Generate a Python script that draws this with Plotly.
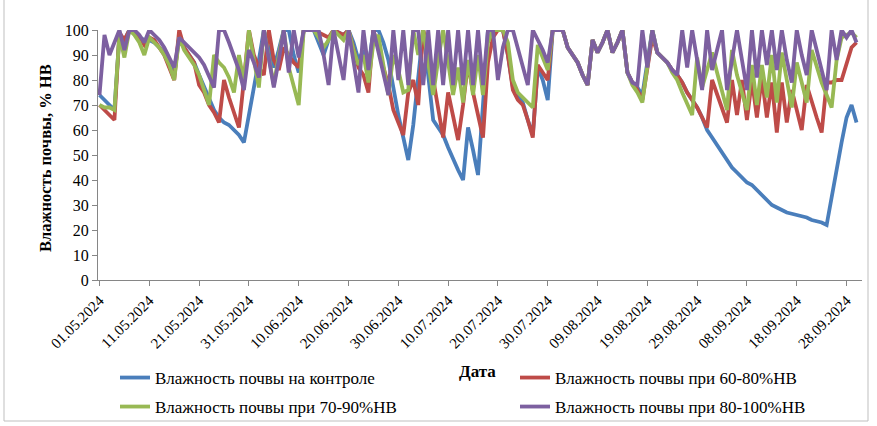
import pandas as pd
import plotly.graph_objects as go

start_date = "2024-05-01"
end_date = "2024-09-30"
dates = pd.date_range(start_date, end_date, freq="D")

tick_dates = ["2024-05-01", "2024-05-11", "2024-05-21", "2024-05-31", "2024-06-10",
              "2024-06-20", "2024-06-30", "2024-07-10", "2024-07-20", "2024-07-30",
              "2024-08-09", "2024-08-19", "2024-08-29", "2024-09-08", "2024-09-18",
              "2024-09-28"]
tick_labels = ["01.05.2024", "11.05.2024", "21.05.2024", "31.05.2024", "10.06.2024",
               "20.06.2024", "30.06.2024", "10.07.2024", "20.07.2024", "30.07.2024",
               "09.08.2024", "19.08.2024", "29.08.2024", "08.09.2024", "18.09.2024",
               "28.09.2024"]

series_names = ["Влажность почвы на контроле", "Влажность почвы при 60-80%НВ",
                "Влажность почвы при 70-90%НВ", "Влажность почвы при 80-100%НВ"]

control = [74, 72, 70, 68, 98, 96, 100, 99, 97, 96,
           96, 95, 93, 91, 87, 82, 97, 93, 90, 87,
           82, 77, 72, 68, 65, 63, 62, 60, 58, 55,
           66, 75, 88, 100, 92, 85, 92, 100, 100, 90,
           83, 100, 100, 100, 95, 90, 96, 100, 99, 98,
           100, 95, 88, 92, 85, 100, 100, 95, 88, 76,
           66, 57, 48, 62, 80, 100, 82, 64, 61, 58,
           53, 48, 44, 40, 61, 52, 42, 70, 100, 100,
           100, 100, 90, 77, 74, 71, 64, 58, 85, 80,
           72, 100, 100, 100, 93, 90, 87, 82, 78, 96,
           91, 95, 100, 91, 95, 100, 83, 79, 77, 74,
           87, 100, 91, 89, 87, 84, 82, 79, 75, 72,
           69, 65, 60, 57, 54, 51, 48, 45, 43, 41,
           39, 38, 36, 34, 32, 30, 29, 28, 27, 26.5,
           26, 25.5, 25, 24, 23.5, 23, 22, 34, 44, 55,
           65, 70, 63]

hv_60_80 = [70, 68, 66, 64, 99, 96, 100, 99, 97, 94,
            97, 96, 93, 90, 85, 80, 100, 93, 90, 87,
            78, 75, 70, 67, 63, 80, 73, 67, 61, 80,
            100, 90, 85, 82, 100, 88, 84, 93, 90, 87,
            85, 100, 100, 100, 99, 98, 97, 100, 99, 98,
            100, 93, 85, 82, 75, 100, 92, 85, 78, 68,
            63, 58, 75, 80, 70, 100, 92, 80, 68, 57,
            75, 66, 56, 70, 87, 75, 66, 57, 87, 97,
            100, 100, 90, 76, 72, 70, 64, 57, 86, 83,
            80, 100, 100, 100, 93, 90, 87, 82, 78, 96,
            91, 95, 100, 91, 95, 100, 83, 79, 76, 72,
            85, 97, 91, 89, 87, 84, 82, 79, 75, 72,
            69, 65, 61, 80, 74, 68, 63, 80, 66, 80,
            64, 80, 65, 81, 65, 79, 59, 79, 63, 76,
            68, 60, 78, 71, 65, 59, 79, 79, 80, 80,
            86, 93, 95]

hv_70_90 = [70, 69, 69, 68, 98, 89, 100, 98, 95, 90,
            97, 95, 93, 90, 86, 80, 97, 92, 89, 86,
            82, 76, 70, 90, 87, 85, 81, 75, 90, 79,
            100, 88, 77, 100, 88, 78, 90, 100, 85, 78,
            70, 100, 100, 100, 97, 93, 96, 100, 98, 96,
            100, 92, 86, 90, 79, 95, 98, 86, 74, 90,
            84, 75, 76, 100, 90, 100, 87, 74, 88, 100,
            87, 74, 85, 71, 88, 74, 90, 74, 95, 100,
            100, 100, 95, 80, 75, 73, 71, 69, 94, 89,
            84, 100, 100, 100, 93, 90, 87, 82, 78, 96,
            91, 95, 100, 91, 95, 100, 83, 78, 75, 71,
            86, 100, 91, 89, 87, 83, 80, 75, 70, 66,
            89, 77, 84, 91, 83, 75, 68, 92, 82, 75,
            68, 86, 70, 86, 73, 90, 71, 91, 80, 69,
            87, 79, 71, 92, 85, 79, 74, 69, 88, 97,
            98, 99, 97]

hv_80_100 = [74, 98, 90, 95, 100, 92, 100, 100, 98, 95,
             100, 98, 96, 93, 89, 85, 97, 95, 93, 91,
             89, 86, 81, 77, 100, 100, 95, 90, 84, 76,
             92, 87, 81, 100, 88, 77, 88, 100, 83, 100,
             89, 100, 100, 100, 100, 90, 78, 100, 90, 80,
             100, 88, 75, 100, 84, 100, 91, 82, 74, 100,
             80, 100, 78, 100, 100, 78, 100, 78, 100, 78,
             100, 78, 100, 78, 100, 78, 100, 78, 100, 100,
             80, 93, 100, 100, 93, 86, 78, 100, 96, 92,
             87, 100, 100, 100, 93, 90, 87, 82, 78, 96,
             91, 95, 100, 91, 95, 100, 83, 79, 78, 100,
             85, 100, 91, 89, 87, 84, 82, 100, 85, 100,
             88, 76, 100, 84, 92, 100, 76, 88, 100, 88,
             76, 100, 81, 100, 86, 100, 84, 100, 88, 79,
             100, 90, 82, 100, 92, 84, 76, 100, 88, 100,
             97, 100, 95]

colors = ["#4A7EBB", "#BE4B48", "#98B954", "#7D60A0"]
legend_ids = ["legend", "legend2", "legend3", "legend4"]

# plot area in pixels: x 98..862, y 30..280
L, R, T, B = 98, 862, 30, 280
W, H = R - L, B - T


def px(x):
    return (x - L) / W


def py(y):
    return (B - y) / H


fig = go.Figure()
for name, vals, col, lg in zip(series_names, [control, hv_60_80, hv_70_90, hv_80_100],
                               colors, legend_ids):
    fig.add_trace(go.Scatter(x=dates, y=vals, mode="lines", name=name,
                             line=dict(color=col, width=3.8), legend=lg))

serif = "Times New Roman, Liberation Serif, Tinos, DejaVu Serif, serif"
legend_pos = {"legend": (115, 378), "legend2": (515, 378),
              "legend3": (115, 407), "legend4": (515, 407)}
legend_layout = {}
for lg, (lx, ly) in legend_pos.items():
    legend_layout[lg] = dict(x=px(lx), y=py(ly), xanchor="left", yanchor="middle",
                             orientation="h", bgcolor="rgba(0,0,0,0)",
                             font=dict(family=serif, size=17, color="black"))

fig.update_layout(
    width=877, height=426,
    margin=dict(l=L, r=877 - R, t=T, b=426 - B, autoexpand=False),
    paper_bgcolor="white", plot_bgcolor="white",
    showlegend=True,
    **legend_layout,
    xaxis=dict(type="date",
               range=["2024-04-30 16:48", "2024-10-01 02:24"],
               tickmode="array", tickvals=tick_dates, ticktext=tick_labels,
               tickangle=-45, ticks="outside", ticklen=5, tickcolor="#868686",
               showline=True, linecolor="#868686", linewidth=1,
               showgrid=False, zeroline=False,
               tickfont=dict(family=serif, size=15, color="black")),
    yaxis=dict(range=[0, 100], dtick=10, tick0=0,
               ticks="outside", ticklen=5, tickcolor="#868686",
               showline=True, linecolor="#868686", linewidth=1,
               showgrid=False, zeroline=False,
               tickfont=dict(family=serif, size=16, color="black")),
    annotations=[
        dict(text="<b>Дата</b>", x=px(477), y=py(372), xref="paper", yref="paper",
             showarrow=False, xanchor="center", yanchor="middle",
             font=dict(family=serif, size=17, color="black")),
        dict(text="<b>Влажность почвы, % НВ</b>", x=px(45), y=py(158),
             xref="paper", yref="paper", showarrow=False, textangle=-90,
             xanchor="center", yanchor="middle",
             font=dict(family=serif, size=16.5, color="black")),
    ],
    shapes=[
        dict(type="path", xref="paper", yref="paper",
             path=f"M {px(4)} {py(-5)} L {px(4)} {py(421)} L {px(868)} {py(421)} L {px(868)} {py(-5)}",
             line=dict(color="#BFBFBF", width=1)),
    ],
)

fig.write_html("out.html", config={"displayModeBar": False},
               post_script="document.body.style.margin='0px';document.body.style.padding='0px';")
